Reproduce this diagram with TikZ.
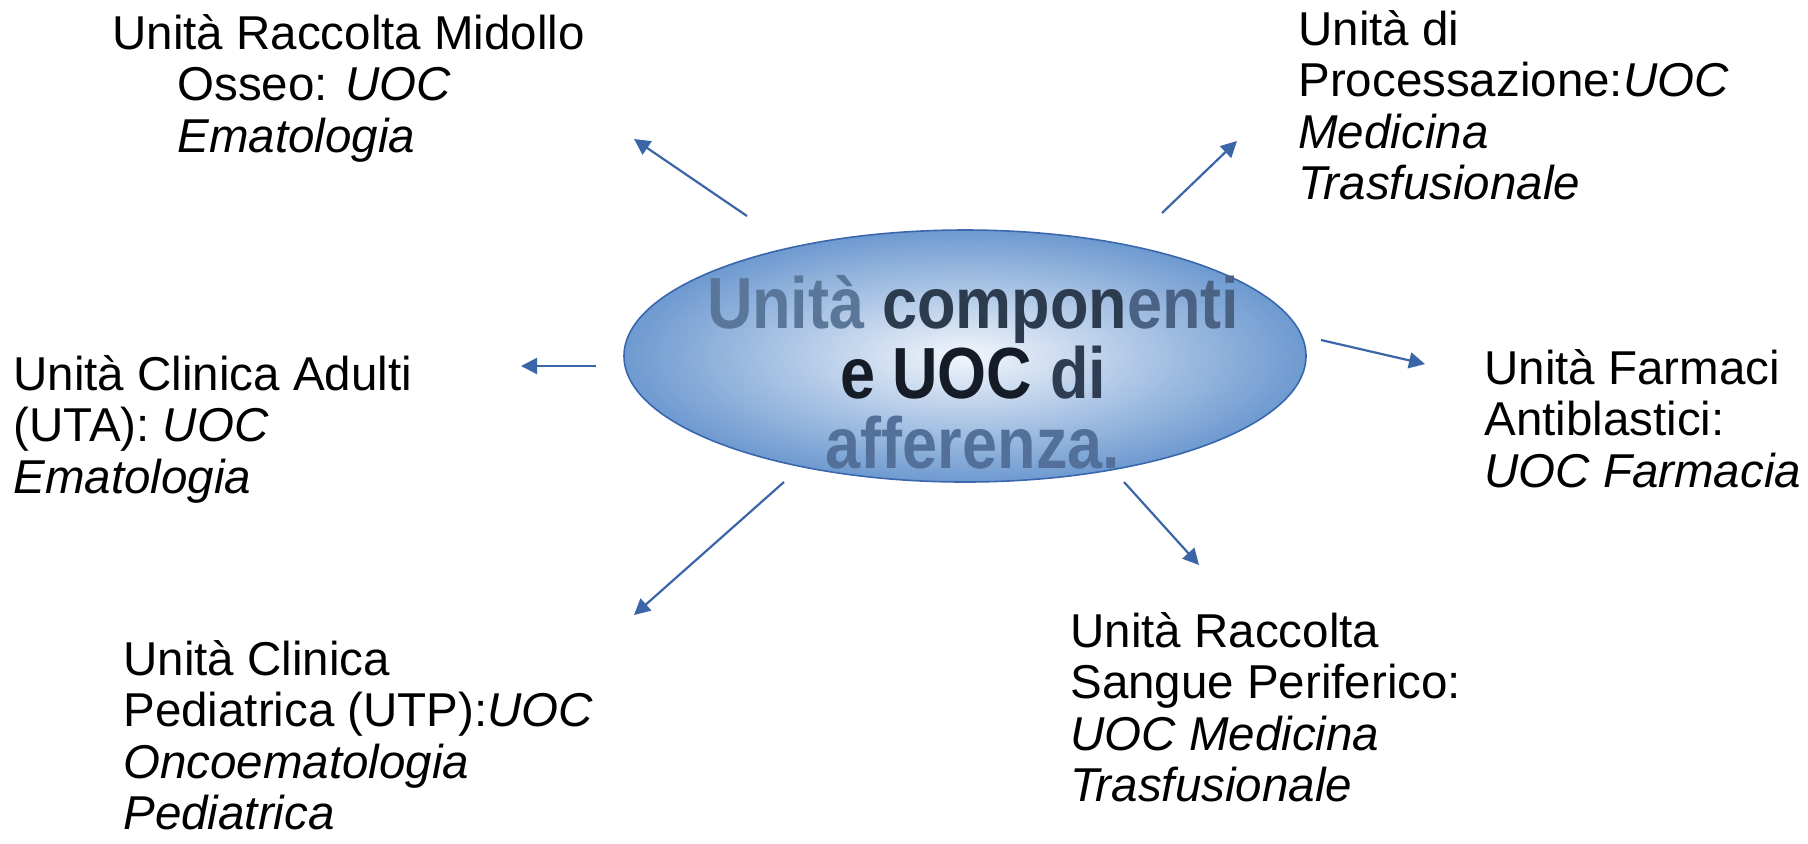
\documentclass[tikz,border=0pt]{standalone}
\usepackage{fontspec}
\setmainfont{Liberation Sans}
\usepackage{graphicx}
\usetikzlibrary{shapes.geometric,arrows.meta}
\definecolor{arrowblue}{HTML}{3A66A8}
\definecolor{ellborder}{HTML}{3A67AD}
\definecolor{ellouter}{HTML}{6E9AD0}
\definecolor{ellinner}{HTML}{F2F6FC}
\definecolor{tA}{HTML}{5A7699}
\definecolor{tB}{HTML}{2C3B4E}
\definecolor{tC}{HTML}{4A6284}
\definecolor{tD}{HTML}{151C27}
\definecolor{tE}{HTML}{2E3D51}
\definecolor{tF}{HTML}{52709A}
\newcommand\ctrline[1]{\hbox to 0pt{\hss#1\hss}}
\begin{document}
\begin{tikzpicture}[x=0.5pt,y=-0.5pt,
  conn/.style={draw=arrowblue, line width=1.1pt, -{Triangle[length=8pt,width=8pt]}},
  lab/.style={anchor=base west, inner sep=0pt, font=\fontsize{23.75pt}{25.8pt}\selectfont}]
\useasboundingbox (0,0) rectangle (1808,843);
% central ellipse
\node[ellipse, draw=ellborder, line width=0.8pt, inner color=ellinner, outer color=ellouter,
      minimum width=341pt, minimum height=126pt, inner sep=0pt] (c) at (965,356) {};
\node[anchor=base, inner sep=0pt, font=\fontsize{31.5pt}{30.6pt}\bfseries] (t) at (973,328)
  {\scalebox{1}[1.15]{\vtop{\baselineskip=30.6pt
     \ctrline{\textcolor{tA}{Unità} \textcolor{tB}{compon}\textcolor{tC}{enti}}
     \ctrline{\textcolor{tD}{e UOC} \textcolor{tE}{di}}
     \ctrline{\textcolor{tF}{afferenza.}}}}};
% labels
\node[lab] (ra) at (112,49) {\vtop{\hbox{Unità Raccolta Midollo}\hbox{\kern32.5pt Osseo: \textit{UOC}}\hbox{\kern32.5pt\textit{Ematologia}}}};
\node[lab] (pr) at (1298,45) {\vtop{\hbox{Unità di}\hbox{Processazione:\textit{UOC}}\hbox{\textit{Medicina}}\hbox{\textit{Trasfusionale}}}};
\node[lab] (ca) at (13,390) {\vtop{\hbox{Unità Clinica Adulti}\hbox{(UTA): \textit{UOC}}\hbox{\textit{Ematologia}}}};
\node[lab] (fa) at (1484,384) {\vtop{\hbox{Unità Farmaci}\hbox{Antiblastici:}\hbox{\textit{UOC Farmacia}}}};
\node[lab] (cp) at (123,675) {\vtop{\hbox{Unità Clinica}\hbox{Pediatrica (UTP):\textit{UOC}}\hbox{\textit{Oncoematologia}}\hbox{\textit{Pediatrica}}}};
\node[lab] (rs) at (1070,647) {\vtop{\hbox{Unità Raccolta}\hbox{Sangue Periferico:}\hbox{\textit{UOC Medicina}}\hbox{\textit{Trasfusionale}}}};
% connector end points
\coordinate (s1) at (747,216); \coordinate (e1) at (634,139);
\coordinate (s2) at (1162,213); \coordinate (e2) at (1237,141);
\coordinate (s3) at (596,366); \coordinate (e3) at (521,366);
\coordinate (s4) at (1321,340); \coordinate (e4) at (1425,364);
\coordinate (s5) at (784,482); \coordinate (e5) at (634,615);
\coordinate (s6) at (1124,482); \coordinate (e6) at (1199,565);
\draw[conn] (s1) -- (e1);
\draw[conn] (s2) -- (e2);
\draw[conn] (s3) -- (e3);
\draw[conn] (s4) -- (e4);
\draw[conn] (s5) -- (e5);
\draw[conn] (s6) -- (e6);
\end{tikzpicture}
\end{document}
